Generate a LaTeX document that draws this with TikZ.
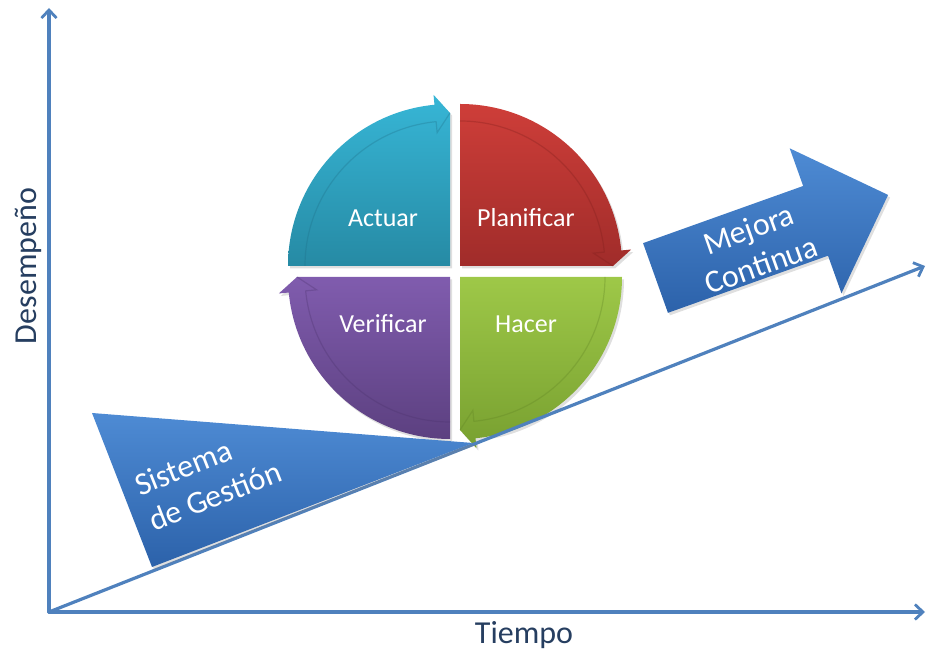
\documentclass[tikz,border=0pt]{standalone}
\usepackage{fontspec}
\setmainfont{Carlito}
\usetikzlibrary{arrows.meta,shadows}
\definecolor{axisblue}{RGB}{79,129,189}
\definecolor{navy}{RGB}{38,62,96}
\definecolor{tealtop}{RGB}{55,182,214}
\definecolor{tealbot}{RGB}{38,138,164}
\definecolor{tealdark}{RGB}{30,110,135}
\definecolor{redtop}{RGB}{206,62,57}
\definecolor{redbot}{RGB}{160,44,42}
\definecolor{reddark}{RGB}{125,30,28}
\definecolor{purptop}{RGB}{128,92,174}
\definecolor{purpbot}{RGB}{92,64,128}
\definecolor{purpdark}{RGB}{75,50,108}
\definecolor{greentop}{RGB}{158,200,72}
\definecolor{greenbot}{RGB}{120,160,48}
\definecolor{greendark}{RGB}{95,130,35}
\definecolor{bluetop}{RGB}{78,139,212}
\definecolor{bluebot}{RGB}{44,98,170}
\begin{document}
\begin{tikzpicture}[x=1pt,y=1pt,
  axisline/.style={draw=axisblue, line width=3.2pt, line cap=round,
    -{Straight Barb[length=8pt,width=15pt,line width=2.8pt]}},
  shade/.style={drop shadow={opacity=0.25,shadow xshift=2pt,shadow yshift=-2.5pt}},
  tealfill/.style={shade, top color=tealtop, bottom color=tealbot},
  redfill/.style={shade, top color=redtop, bottom color=redbot},
  purpfill/.style={shade, top color=purptop, bottom color=purpbot},
  greenfill/.style={shade, top color=greentop, bottom color=greenbot},
  bluefill/.style={shade, top color=bluetop, bottom color=bluebot},
  bandline/.style={line width=1.2pt, draw opacity=0.3},
  quadtext/.style={text=white, font=\fontsize{26}{30}\selectfont, inner sep=0pt},
  bigwhite/.style={text=white, font=\fontsize{32}{38}\selectfont, inner sep=0pt},
  axislabel/.style={text=navy, font=\fontsize{32}{38}\selectfont, inner sep=0pt}
]
\useasboundingbox (0,0) rectangle (927,652);

% axes
\coordinate (origin) at (49,40);
\coordinate (ytop) at (49,644);
\coordinate (xend) at (925,40);
\coordinate (dend) at (925,386);

% quadrants
\begin{scope}[shift={(450,386)}]
  \path[tealfill] (0,0) -- (180:162) arc[start angle=180,end angle=95.5,radius=162]
    -- (95.5:172) -- (90:153) -- cycle;
  \draw[bandline, draw=tealdark] (180:145) arc[start angle=180,end angle=95.5,radius=145]
    -- (95.5:134) -- (90:153);
\end{scope}
\begin{scope}[shift={(460,386)}]
  \path[redfill] (0,0) -- (90:162) arc[start angle=90,end angle=5.5,radius=162]
    -- (5.5:172) -- (0:153) -- cycle;
  \draw[bandline, draw=reddark] (90:145) arc[start angle=90,end angle=5.5,radius=145]
    -- (5.5:134) -- (0:153);
\end{scope}
\begin{scope}[shift={(460,375)}]
  \path[greenfill] (0,0) -- (0:162) arc[start angle=0,end angle=-84.5,radius=162]
    -- (-84.5:172) -- (-90:153) -- cycle;
  \draw[bandline, draw=greendark] (0:145) arc[start angle=0,end angle=-84.5,radius=145]
    -- (-84.5:134) -- (-90:153);
\end{scope}
\begin{scope}[shift={(450,375)}]
  \path[purpfill] (0,0) -- (270:162) arc[start angle=270,end angle=185.5,radius=162]
    -- (185.5:172) -- (180:153) -- cycle;
  \draw[bandline, draw=purpdark] (270:145) arc[start angle=270,end angle=185.5,radius=145]
    -- (185.5:134) -- (180:153);
\end{scope}

\node[quadtext] (actuar) at (383,434) {Actuar};
\node[quadtext] (planificar) at (526,434) {Planificar};
\node[quadtext] (verificar) at (383,328) {Verificar};
\node[quadtext] (hacer) at (526,328) {Hacer};

% axes lines
\draw[axisline] (origin) -- (ytop);
\draw[axisline] (origin) -- (xend);
\draw[axisline] (origin) -- (dend);

% Sistema de Gestion triangle
\path[bluefill] (92,239) -- (473,209) -- (152,85) -- cycle;
\node[bigwhite, align=left, rotate=21.6] (sg) at (208,174) {Sistema\\de Gestión};

% Mejora Continua arrow
\begin{scope}[shift={(655.5,374)}, rotate=19.65]
  \path[bluefill] (0,37) -- (170,37) -- (170,77) -- (247,0) -- (170,-77) -- (170,-37) -- (0,-37) -- cycle;
\end{scope}
\node[bigwhite, align=center, rotate=19.65] (mc) at (755,405) {Mejora\\Continua};

% axis labels
\node[axislabel, rotate=90] (desempeno) at (28,386) {Desempeño};
\node[axislabel] (tiempo) at (524,17) {Tiempo};
\end{tikzpicture}
\end{document}
